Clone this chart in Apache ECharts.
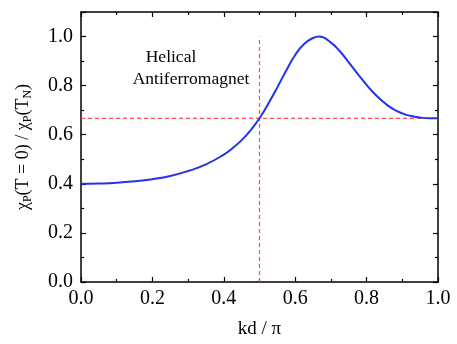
<!DOCTYPE html>
<html>
<head>
<meta charset="utf-8">
<script src="https://cdn.jsdelivr.net/npm/echarts@6/dist/echarts.min.js"></script>
<style>html,body{margin:0;padding:0;background:#fff}#c{width:457px;height:344px}</style>
</head>
<body>
<div id="c"></div>
<script>
var kd = [0, 0.05, 0.1, 0.15, 0.2, 0.25, 0.3, 0.35, 0.4, 0.425, 0.45, 0.475, 0.5, 0.525, 0.55, 0.575, 0.6, 0.625, 0.65, 0.667, 0.7, 0.725, 0.75, 0.775, 0.8, 0.825, 0.85, 0.875, 0.9, 0.925, 0.95, 0.975, 1.0];
var chi = [0.400, 0.401, 0.404, 0.410, 0.419, 0.432, 0.452, 0.479, 0.519, 0.546, 0.578, 0.618, 0.667, 0.727, 0.793, 0.862, 0.925, 0.970, 0.994, 1.000, 0.975, 0.940, 0.895, 0.848, 0.803, 0.763, 0.730, 0.704, 0.687, 0.676, 0.670, 0.667, 0.667];
var hLineX = [0, 1.0], hLineY = [2/3, 2/3];
var vLineX = [0.5, 0.5], vLineY = [0, 1.0];
var xTicks = ['0.0','0.2','0.4','0.6','0.8','1.0'];
var yTicks = ['0.0','0.2','0.4','0.6','0.8','1.0'];

function pairs(a, b){ return a.map(function(v,i){ return [v, b[i]]; }); }
var font = '"Liberation Serif", "DejaVu Serif", serif';
var axisBase = {
  type: 'value',
  axisLine: {show: true, onZero: false, lineStyle: {color: '#000', width: 1.5}},
  axisTick: {show: true, inside: true, length: 5, lineStyle: {color: '#000', width: 1.2}},
  minorTick: {show: true, splitNumber: 2, length: 3, lineStyle: {color: '#000', width: 1.2}},
  splitLine: {show: false}
};
function ax(extra){ return Object.assign({}, JSON.parse(JSON.stringify(axisBase)), extra); }

var chart = echarts.init(document.getElementById('c'), null, {renderer: 'canvas'});
chart.setOption({
  animation: false,
  backgroundColor: '#fff',
  grid: {left: 81, right: 19, top: 12, bottom: 57},
  xAxis: [
    ax({min: 0, max: 1, interval: 0.2, position: 'bottom',
      axisLabel: {color: '#000', fontFamily: font, fontSize: 20, margin: 7,
        formatter: function(v){ var s = v.toFixed(1); return xTicks.indexOf(s) >= 0 ? s : ''; }},
      name: 'kd / π', nameLocation: 'middle', nameGap: 38,
      nameTextStyle: {color: '#000', fontFamily: font, fontSize: 19}}),
    ax({min: 0, max: 1, interval: 0.2, position: 'top', axisLabel: {show: false}})
  ],
  yAxis: [
    ax({min: 0, max: 1.1, interval: 0.2, position: 'left',
      axisLabel: {color: '#000', fontFamily: font, fontSize: 20, margin: 8,
        formatter: function(v){ var s = v.toFixed(1); return yTicks.indexOf(s) >= 0 ? s : ''; }},
      name: '{a|χ}{s|P}{a|(T = 0) / χ}{s|P}{a|(T}{s|N}{a|)}', nameLocation: 'middle', nameGap: 47, nameRotate: 90,
      nameTextStyle: {color: '#000', fontFamily: font, fontSize: 18,
        rich: {
          a: {fontFamily: font, fontSize: 18, color: '#000', lineHeight: 22, verticalAlign: 'middle'},
          s: {fontFamily: font, fontSize: 12, color: '#000', lineHeight: 22, verticalAlign: 'bottom', padding: [8, 0, 0, 0]}
        }}}),
    ax({min: 0, max: 1.1, interval: 0.2, position: 'right', axisLabel: {show: false}})
  ],
  graphic: [
    {type: 'text', z: 10, style: {text: 'Helical', x: 171, y: 57, align: 'center', verticalAlign: 'middle', fontSize: 17.5, fontFamily: font, fill: '#000'}},
    {type: 'text', z: 10, style: {text: 'Antiferromagnet', x: 191, y: 79, align: 'center', verticalAlign: 'middle', fontSize: 17.5, fontFamily: font, fill: '#000'}}
  ],
  series: [
    {type: 'line', data: pairs(hLineX, hLineY), symbol: 'none', lineStyle: {color: '#ff4d4d', width: 1.2, type: [4, 3]}, z: 2},
    {type: 'line', data: pairs(vLineX, vLineY), symbol: 'none', lineStyle: {color: '#ff4d4d', width: 1.2, type: [4, 3]}, z: 2},
    {type: 'line', data: pairs(kd, chi), symbol: 'none', smooth: 0.5, lineStyle: {color: '#2233ee', width: 2}, z: 3}
  ]
});
</script>
</body>
</html>
